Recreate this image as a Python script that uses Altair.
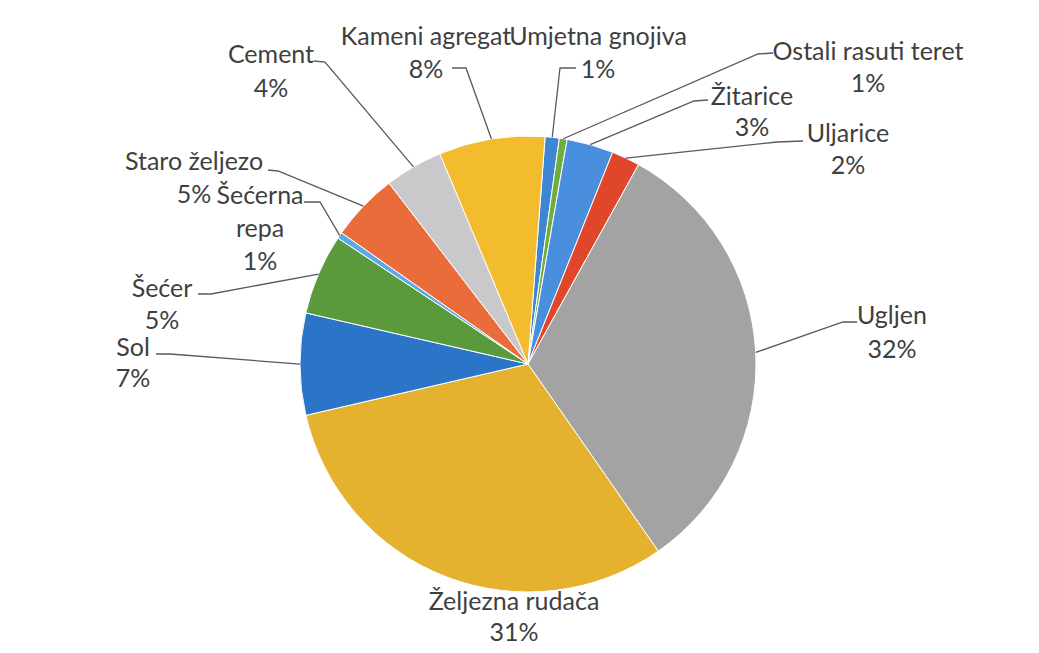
import math
import altair as alt
import pandas as pd

# ---- data ----
names = ["Umjetna gnojiva", "Ostali rasuti teret", "Žitarice", "Uljarice", "Ugljen",
         "Željezna rudača", "Sol", "Šećer", "Šećerna repa", "Staro željezo",
         "Cement", "Kameni agregat"]
values = [1.0, 0.55, 3.3, 2.0, 32.2, 31.0, 7.2, 5.7, 0.45, 4.8, 4.1, 7.5]
pct_labels = ["1%", "1%", "3%", "2%", "32%", "31%", "7%", "5%", "1%", "5%", "4%", "8%"]
label_lines = [["Umjetna gnojiva"], ["Ostali rasuti teret"], ["Žitarice"], ["Uljarice"],
               ["Ugljen"], ["Željezna rudača"], ["Sol"], ["Šećer"], ["Šećerna", "repa"],
               ["Staro željezo"], ["Cement"], ["Kameni agregat"]]
colors = ["#3d86d3", "#6fae3e", "#4a8fdd", "#df462a", "#a3a3a3", "#e4b22f",
          "#2b74c8", "#5a9a3c", "#5aaae8", "#ea6c3b", "#c9c9cb", "#f3bb2e"]

# ---- layout (page pixel coordinates) ----
OFF = 8
W, H = 1023, 637
CX, CY, R = 528, 364, 228
START_DEG = 4.3
FONT = "Lato"
FS = 25
label_x = [598, 868, 752, 848, 892, 514, 133, 162, 260, 194, 271, 426]
label_y = [37, 52, 97, 134, 316, 602, 348, 289, 196, 162, 55, 37]
line_h = [33, 32, 31, 32, 34, 31, 31, 32, 33, 33, 34, 33]
elbow = [(560, 68), (758, 54), (694, 101), (777, 142), (843, 322), None,
         (170, 354), (211, 294), (320, 202), (278, 171), (325, 62), (466, 68)]
attach = [(576, 68), (773, 53), (708, 100), (803, 141), (857, 322), None,
          (156, 354), (198, 294), (304, 202), (268, 170), (314, 61), (452, 68)]

total = sum(values)
pie_rows, text_rows, line_rows = [], [], []
cum = 0.0
for i, (n, v) in enumerate(zip(names, values)):
    pie_rows.append({"name": n, "value": v, "color": colors[i], "order": i})
    mid = math.radians(START_DEG + (cum + v / 2) / total * 360)
    cum += v
    lines = label_lines[i] + [pct_labels[i]]
    for k, t in enumerate(lines):
        text_rows.append({"x": label_x[i] - OFF, "y": label_y[i] + k * line_h[i] - OFF, "text": t})
    if elbow[i] is not None:
        ex = CX + R * math.sin(mid)
        ey = CY - R * math.cos(mid)
        pts = [(ex, ey), elbow[i], attach[i]]
        for s, (px, py) in enumerate(pts):
            line_rows.append({"name": n, "seq": s, "x": px - OFF, "y": py - OFF})

pie_df = pd.DataFrame(pie_rows)
text_df = pd.DataFrame(text_rows)
line_df = pd.DataFrame(line_rows)

a0 = math.radians(START_DEG)
pie = alt.Chart(pie_df).mark_arc(outerRadius=R, stroke="#ffffff", strokeWidth=1).encode(
    theta=alt.Theta("value:Q", stack=True, scale=alt.Scale(range=[a0, a0 + 2 * math.pi])),
    color=alt.Color("color:N", scale=None),
    order=alt.Order("order:Q"),
    x=alt.value(CX - OFF),
    y=alt.value(CY - OFF),
)

leaders = alt.Chart(line_df).mark_line(color="#595959", strokeWidth=1.3).encode(
    x=alt.X("x:Q", scale=None, axis=None),
    y=alt.Y("y:Q", scale=None, axis=None),
    detail="name:N",
    order="seq:Q",
)

labels = alt.Chart(text_df).mark_text(font=FONT, fontSize=FS, color="#3f3f3f",
                                      align="center", baseline="middle").encode(
    x=alt.X("x:Q", scale=None, axis=None),
    y=alt.Y("y:Q", scale=None, axis=None),
    text="text:N",
)

chart = alt.layer(pie, leaders, labels).properties(
    width=W, height=H, autosize=alt.AutoSizeParams(type="none"), padding=0,
    background="#ffffff",
).configure_view(stroke=None)

chart.save("out.html", embed_options={"renderer": "svg", "actions": False})
